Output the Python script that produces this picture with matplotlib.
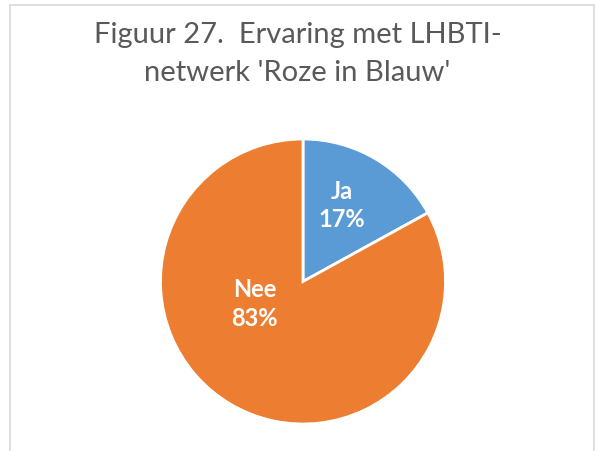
import matplotlib.pyplot as plt
from matplotlib.patches import Rectangle

labels = ['Ja', 'Nee']
shares = [17, 83]
colors = ['#5B9BD5', '#ED7D31']
# label anchor spots inside the pie (pie radius = 1)
label_xy = [(0.27, 0.54), (-0.34, -0.15)]

title = "Figuur 27.  Ervaring met LHBTI-\nnetwerk 'Roze in Blauw'"

W, H = 595, 452
fig = plt.figure(figsize=(W / 100, H / 100), dpi=100)

# light grey chart frame (bottom runs off the picture)
fig.patches.append(Rectangle((9.5 / W, -0.05), 584 / W, 1.05 - 5.5 / H,
                             transform=fig.transFigure, fill=False,
                             edgecolor='#D9D9D9', linewidth=1.2))

cx, cy, r = 303, 452 - 282.5, 142.5
ax = fig.add_axes([(cx - r) / W, (cy - r) / H, 2 * r / W, 2 * r / H])
ax.pie(shares, colors=colors, startangle=90, counterclock=False,
       radius=1, wedgeprops=dict(edgecolor='white', linewidth=2))
ax.set_xlim(-1, 1)
ax.set_ylim(-1, 1)
ax.set_axis_off()

for lab, val, (x, y) in zip(labels, shares, label_xy):
    ax.text(x, y, f'{lab}\n{val}%', ha='center', va='center', color='white',
            fontsize=17, fontweight='bold', family='Lato', linespacing=1.3)

fig.text(0.5, 1 - 54 / H, title, ha='center', va='center', color='#595959',
         fontsize=21, family='Lato', linespacing=1.55)

fig.savefig('out.png', dpi=100)
